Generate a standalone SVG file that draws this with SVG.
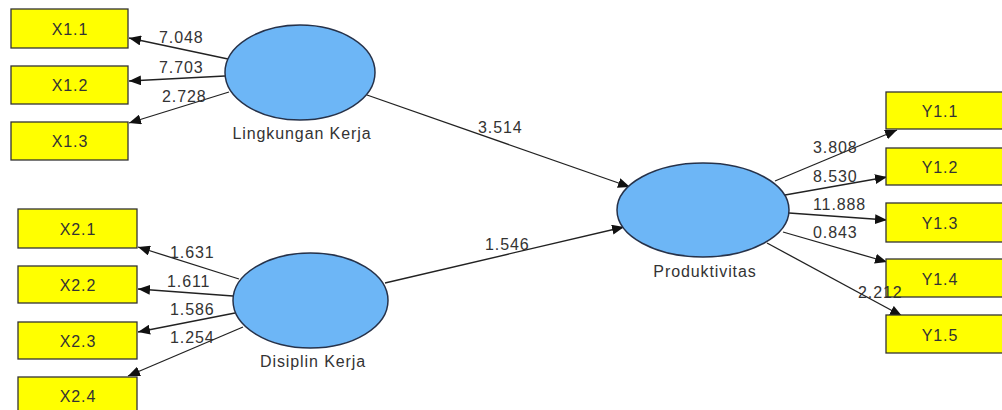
<svg xmlns="http://www.w3.org/2000/svg" width="1002" height="410" viewBox="0 0 1002 410">
<defs>
<marker id="ah" viewBox="0 0 12 10" refX="12" refY="5" markerWidth="12" markerHeight="10" markerUnits="userSpaceOnUse" orient="auto">
<path d="M0,0 L12,5 L0,10 z" fill="#111"/>
</marker>
<style>
.box{fill:#ffff00;stroke:#333;stroke-width:1.3}
.lv{fill:#6db6f6;stroke:#26324a;stroke-width:1.5}
.t{font-family:"Liberation Sans",Arial,sans-serif;font-size:16px;letter-spacing:0.9px;fill:#333}
.c{text-anchor:middle}
.e{stroke:#222;stroke-width:1.3;fill:none;marker-end:url(#ah)}
</style>
</defs>
<rect width="1002" height="410" fill="#fff"/>
<g id="connectors">
<line class="e" x1="228" y1="59" x2="129" y2="38"/>
<line class="e" x1="225" y1="76" x2="129" y2="81"/>
<line class="e" x1="229" y1="92" x2="129" y2="123"/>
<line class="e" x1="239" y1="279" x2="138" y2="247"/>
<line class="e" x1="233" y1="296" x2="138" y2="289"/>
<line class="e" x1="235" y1="313" x2="138" y2="332"/>
<line class="e" x1="243" y1="327" x2="128" y2="376"/>
<line class="e" x1="367" y1="95" x2="630" y2="187"/>
<line class="e" x1="385" y1="283" x2="624" y2="227"/>
<line class="e" x1="775" y1="181" x2="897" y2="130"/>
<line class="e" x1="785" y1="195" x2="887" y2="177"/>
<line class="e" x1="789" y1="213" x2="887" y2="220"/>
<line class="e" x1="783" y1="232" x2="887" y2="262"/>
<line class="e" x1="767" y1="243" x2="902" y2="316"/>
</g>
<g id="lingkungan">
<ellipse class="lv" cx="300" cy="72.5" rx="75" ry="47.5"/>
<text class="t c" x="302" y="139">Lingkungan Kerja</text>
</g>
<g id="disiplin">
<ellipse class="lv" cx="310.5" cy="300.5" rx="77.5" ry="47.5"/>
<text class="t c" x="313" y="367">Disiplin Kerja</text>
</g>
<g id="produktivitas">
<ellipse class="lv" cx="703" cy="210" rx="86" ry="47"/>
<text class="t c" x="705" y="277">Produktivitas</text>
</g>
<g id="x11"><rect class="box" x="11" y="9" width="117" height="39"/><text class="t c" x="70" y="35">X1.1</text></g>
<g id="x12"><rect class="box" x="11" y="66" width="117" height="38"/><text class="t c" x="70" y="91">X1.2</text></g>
<g id="x13"><rect class="box" x="11" y="122" width="117" height="38"/><text class="t c" x="70" y="147">X1.3</text></g>
<g id="x21"><rect class="box" x="18" y="209" width="119" height="39"/><text class="t c" x="78" y="235">X2.1</text></g>
<g id="x22"><rect class="box" x="18" y="266" width="119" height="37"/><text class="t c" x="78" y="291">X2.2</text></g>
<g id="x23"><rect class="box" x="18" y="322" width="119" height="37"/><text class="t c" x="78" y="347">X2.3</text></g>
<g id="x24"><rect class="box" x="18" y="377" width="119" height="38"/><text class="t c" x="78" y="402">X2.4</text></g>
<g id="y11"><rect class="box" x="886" y="92" width="120" height="37"/><text class="t c" x="940" y="117">Y1.1</text></g>
<g id="y12"><rect class="box" x="886" y="148" width="120" height="37"/><text class="t c" x="940" y="173">Y1.2</text></g>
<g id="y13"><rect class="box" x="886" y="203" width="120" height="39"/><text class="t c" x="940" y="229">Y1.3</text></g>
<g id="y14"><rect class="box" x="886" y="259" width="120" height="38"/><text class="t c" x="940" y="285">Y1.4</text></g>
<g id="y15"><rect class="box" x="886" y="315" width="120" height="38"/><text class="t c" x="940" y="341">Y1.5</text></g>
<g id="edge-labels" class="t">
<text x="159" y="43">7.048</text>
<text x="159" y="73">7.703</text>
<text x="162" y="102">2.728</text>
<text x="170" y="258">1.631</text>
<text x="167" y="287">1.611</text>
<text x="170" y="315">1.586</text>
<text x="170" y="343">1.254</text>
<text x="478" y="133">3.514</text>
<text x="485" y="250">1.546</text>
<text x="813" y="153">3.808</text>
<text x="813" y="182">8.530</text>
<text x="813" y="210">11.888</text>
<text x="813" y="238">0.843</text>
<text x="858" y="298">2.212</text>
</g>
</svg>
